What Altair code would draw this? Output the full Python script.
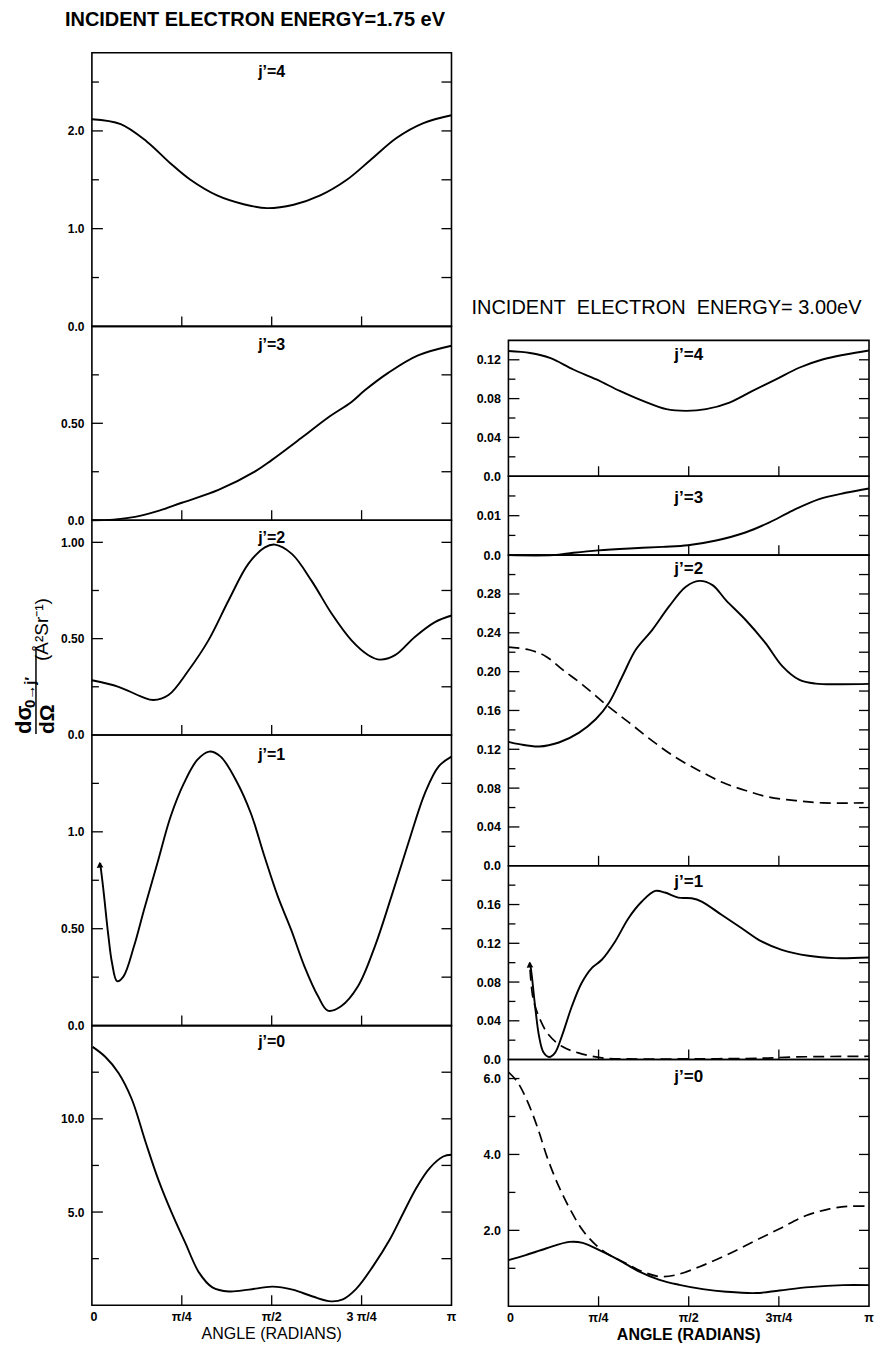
import altair as alt
import pandas as pd

FONT = "Liberation Sans"

# ---------------- data (angle in units of pi) ----------------
LEFT_TITLE = "INCIDENT ELECTRON ENERGY=1.75 eV"
RIGHT_TITLE = "INCIDENT\u00a0\u00a0ELECTRON\u00a0\u00a0ENERGY=\u00a03.00eV"
X_TITLE = "ANGLE (RADIANS)"
X_TICKS = [0.25, 0.5, 0.75]
X_LABEL_VALS = [0, 0.25, 0.5, 0.75, 1.0]
X_LABELS_LEFT = ["0", "π/4", "π/2", "3 π/4", "π"]
X_LABELS_RIGHT = ["0", "π/4", "π/2", "3π/4", "π"]

# left column, E = 1.75 eV
L4_x = [0, 0.08, 0.153, 0.218, 0.274, 0.348, 0.422, 0.487, 0.561, 0.635, 0.709, 0.774, 0.848, 0.922, 1.0]
L4_y = [2.12, 2.07, 1.89, 1.67, 1.50, 1.34, 1.25, 1.21, 1.245, 1.34, 1.50, 1.70, 1.93, 2.08, 2.16]

L3_x = [0, 0.06, 0.12, 0.18, 0.25, 0.352, 0.454, 0.5, 0.583, 0.657, 0.722, 0.759, 0.824, 0.907, 1.0]
L3_y = [0.0, 0.003, 0.017, 0.045, 0.09, 0.156, 0.252, 0.31, 0.425, 0.53, 0.61, 0.67, 0.76, 0.85, 0.90]

L2_x = [0, 0.074, 0.139, 0.171, 0.213, 0.269, 0.324, 0.38, 0.435, 0.481, 0.509, 0.556, 0.611, 0.667, 0.722, 0.769, 0.801, 0.843, 0.898, 0.954, 1.0]
L2_y = [0.284, 0.25, 0.198, 0.181, 0.207, 0.336, 0.491, 0.698, 0.888, 0.974, 0.988, 0.94, 0.80, 0.629, 0.491, 0.414, 0.391, 0.414, 0.509, 0.586, 0.62]

L1_x = [0.023, 0.032, 0.046, 0.056, 0.07, 0.088, 0.117, 0.145, 0.182, 0.219, 0.256, 0.293, 0.326, 0.358, 0.405, 0.442, 0.48, 0.517, 0.554, 0.591, 0.629, 0.656, 0.693, 0.74, 0.787, 0.833, 0.88, 0.926, 0.964, 1.0]
L1_y = [0.84, 0.70, 0.46, 0.323, 0.229, 0.254, 0.409, 0.598, 0.838, 1.079, 1.251, 1.371, 1.414, 1.388, 1.251, 1.096, 0.873, 0.667, 0.495, 0.306, 0.151, 0.077, 0.10, 0.203, 0.409, 0.667, 0.942, 1.199, 1.337, 1.388]
L1_arrow_x = [0.022]
L1_arrow_y = [0.83]

L0_x = [0.002, 0.037, 0.074, 0.111, 0.149, 0.186, 0.223, 0.26, 0.298, 0.335, 0.381, 0.437, 0.502, 0.558, 0.614, 0.665, 0.698, 0.735, 0.782, 0.828, 0.865, 0.903, 0.94, 0.977, 1.0]
L0_y = [13.86, 13.33, 12.46, 11.05, 8.77, 6.67, 4.91, 3.33, 1.75, 0.96, 0.74, 0.84, 1.0, 0.84, 0.47, 0.21, 0.32, 0.88, 2.1, 3.51, 4.91, 6.32, 7.37, 7.98, 8.07]

# right column, E = 3.00 eV
R4_x = [0, 0.06, 0.115, 0.18, 0.244, 0.309, 0.373, 0.438, 0.493, 0.548, 0.613, 0.677, 0.742, 0.806, 0.871, 0.935, 1.0]
R4_y = [0.129, 0.127, 0.122, 0.110, 0.0998, 0.0879, 0.0776, 0.0691, 0.0674, 0.0691, 0.0759, 0.0879, 0.0998, 0.1118, 0.1203, 0.1255, 0.1296]

R3_x = [0, 0.124, 0.18, 0.249, 0.336, 0.428, 0.498, 0.576, 0.659, 0.724, 0.788, 0.862, 0.935, 1.0]
R3_y = [0, 0, 0.0006, 0.0012, 0.0017, 0.0021, 0.0025, 0.0037, 0.0058, 0.0083, 0.0113, 0.0142, 0.0158, 0.0169]

R2_solid_x = [0, 0.03, 0.085, 0.14, 0.196, 0.242, 0.279, 0.316, 0.353, 0.399, 0.445, 0.492, 0.529, 0.566, 0.603, 0.658, 0.713, 0.76, 0.806, 0.852, 0.917, 1.0]
R2_solid_y = [0.1277, 0.1253, 0.1229, 0.127, 0.1372, 0.1509, 0.1679, 0.1952, 0.2225, 0.243, 0.2669, 0.2874, 0.2935, 0.2891, 0.2737, 0.2532, 0.2294, 0.2055, 0.1918, 0.1877, 0.187, 0.1874]
R2_dash_x = [0, 0.057, 0.104, 0.15, 0.205, 0.27, 0.335, 0.399, 0.464, 0.529, 0.593, 0.658, 0.723, 0.797, 0.871, 0.985]
R2_dash_y = [0.2253, 0.2225, 0.2157, 0.202, 0.1867, 0.1662, 0.1474, 0.1287, 0.1116, 0.098, 0.086, 0.0775, 0.0707, 0.0672, 0.0648, 0.0648]

R1_solid_x = [0.06, 0.065, 0.074, 0.085, 0.097, 0.113, 0.129, 0.148, 0.176, 0.203, 0.231, 0.259, 0.296, 0.333, 0.37, 0.407, 0.434, 0.471, 0.508, 0.536, 0.591, 0.647, 0.702, 0.758, 0.832, 0.906, 1.0]
R1_solid_y = [0.100, 0.086, 0.055, 0.024, 0.0076, 0.0027, 0.0069, 0.024, 0.055, 0.079, 0.0944, 0.103, 0.1219, 0.1459, 0.1631, 0.1741, 0.1724, 0.1672, 0.1665, 0.1631, 0.1494, 0.1356, 0.1219, 0.1133, 0.1071, 0.1047, 0.1054]
R1_dash_x = [0.06, 0.069, 0.088, 0.111, 0.148, 0.194, 0.259, 0.333, 0.518, 0.702, 0.795, 1.0]
R1_dash_y = [0.0927, 0.0618, 0.0412, 0.0258, 0.0137, 0.0069, 0.0017, 0.0007, 0.0007, 0.0014, 0.0027, 0.0034]
R1_arrow_x = [0.059]
R1_arrow_y = [0.098]

R0_solid_x = [0, 0.048, 0.104, 0.169, 0.206, 0.252, 0.307, 0.363, 0.419, 0.474, 0.539, 0.604, 0.687, 0.752, 0.835, 0.928, 1.0]
R0_solid_y = [1.217, 1.348, 1.522, 1.696, 1.67, 1.478, 1.217, 0.913, 0.696, 0.565, 0.452, 0.383, 0.348, 0.417, 0.504, 0.557, 0.557]
R0_dash_x = [0, 0.025, 0.053, 0.081, 0.108, 0.141, 0.173, 0.206, 0.243, 0.28, 0.326, 0.372, 0.419, 0.465, 0.53, 0.604, 0.678, 0.752, 0.826, 0.891, 0.946, 1.0]
R0_dash_y = [6.17, 5.91, 5.39, 4.70, 3.91, 3.13, 2.52, 2.0, 1.61, 1.35, 1.13, 0.913, 0.783, 0.826, 1.043, 1.348, 1.696, 2.043, 2.39, 2.565, 2.635, 2.635]

# y-axis tick values / labels
L4_lab_v, L4_lab_t, L4_major, L4_minor = [0, 1, 2], ["0.0", "1.0", "2.0"], [1, 2], [0.5, 1.5, 2.5]
L3_lab_v, L3_lab_t, L3_major, L3_minor = [0, 0.5], ["0.0", "0.50"], [0.5], [0.25, 0.75]
L2_lab_v, L2_lab_t, L2_major, L2_minor = [0, 0.5, 1.0], ["0.0", "0.50", "1.00"], [0.5, 1.0], [0.25, 0.75]
L1_lab_v, L1_lab_t, L1_major, L1_minor = [0, 0.5, 1.0], ["0.0", "0.50", "1.0"], [0.5, 1.0], [0.25, 0.75, 1.25]
L0_lab_v, L0_lab_t, L0_major, L0_minor = [5, 10], ["5.0", "10.0"], [5, 10], [2.5, 7.5, 12.5]

R4_lab_v, R4_lab_t, R4_major, R4_minor = [0, 0.04, 0.08, 0.12], ["0.0", "0.04", "0.08", "0.12"], [0.04, 0.08, 0.12], [0.02, 0.06, 0.10]
R3_lab_v, R3_lab_t, R3_major, R3_minor = [0, 0.01], ["0.0", "0.01"], [0.01], [0.005, 0.015]
R2_lab_v = [0, 0.04, 0.08, 0.12, 0.16, 0.20, 0.24, 0.28]
R2_lab_t = ["0.0", "0.04", "0.08", "0.12", "0.16", "0.20", "0.24", "0.28"]
R2_major, R2_minor = [0.04, 0.08, 0.12, 0.16, 0.20, 0.24, 0.28], [0.02, 0.06, 0.10, 0.14, 0.18, 0.22, 0.26, 0.30]
R1_lab_v = [0, 0.04, 0.08, 0.12, 0.16]
R1_lab_t = ["0.0", "0.04", "0.08", "0.12", "0.16"]
R1_major, R1_minor = [0.04, 0.08, 0.12, 0.16], [0.02, 0.06, 0.10, 0.14, 0.18]
R0_lab_v, R0_lab_t, R0_major, R0_minor = [2, 4, 6], ["2.0", "4.0", "6.0"], [2, 4, 6], [1, 3, 5]

WL, WR = 360, 361


def lab_expr(vals, txts):
    expr = "''"
    for v, t in reversed(list(zip(vals, txts))):
        expr = f"datum.value == {v} ? '{t}' : ({expr})"
    return expr


def txt(s, x, y, size, weight="bold", angle=0, align="left", font=FONT):
    return (alt.Chart(pd.DataFrame({"t": [s]}))
            .mark_text(font=font, fontSize=size, fontWeight=weight, color="black",
                       angle=angle, align=align, baseline="middle")
            .encode(text="t:N", x=alt.value(x), y=alt.value(y)))


def panel(series, ydom, lab_v, lab_t, major, minor, w, h, jlabel, jdy,
          xlabels=None, xtitle_bold=False, arrow=None, extra=None, lab_size=12, jsize=16):
    xs = alt.Scale(domain=[0, 1], nice=False, zero=False)
    ys = alt.Scale(domain=ydom, nice=False, zero=True)
    yaxis = alt.Axis(values=lab_v, labelExpr=lab_expr(lab_v, lab_t), ticks=False, tickSize=0,
                     domain=False, grid=False, labelPadding=8, labelFont=FONT,
                     labelFontSize=lab_size, labelFontWeight="bold", labelColor="black",
                     labelFlush=False, labelOverlap=False, labelBound=False, title=None)
    X = alt.X("x:Q", scale=xs, axis=None)
    Y = alt.Y("y:Q", scale=ys, axis=yaxis)
    layers = []
    for sx, sy, dashed in series:
        df = pd.DataFrame({"x": sx, "y": sy})
        if dashed:
            mk = alt.Chart(df).mark_line(color="black", strokeWidth=1.7, interpolate="catmull-rom",
                                         strokeDash=[11, 6])
        else:
            mk = alt.Chart(df).mark_line(color="black", strokeWidth=1.9, interpolate="catmull-rom")
        layers.append(mk.encode(x=X, y=Y))
    tick_style = dict(color="black", strokeWidth=1.3)
    layers.append(alt.Chart(pd.DataFrame({"y": major})).mark_rule(**tick_style)
                  .encode(y=Y, x=alt.value(0), x2=alt.value(11)))
    layers.append(alt.Chart(pd.DataFrame({"y": minor})).mark_rule(**tick_style)
                  .encode(y=Y, x=alt.value(0), x2=alt.value(7)))
    layers.append(alt.Chart(pd.DataFrame({"y": major + minor})).mark_rule(**tick_style)
                  .encode(y=Y, x=alt.value(w), x2=alt.value(w - 10)))
    layers.append(alt.Chart(pd.DataFrame({"x": X_TICKS})).mark_rule(**tick_style)
                  .encode(x=X, y=alt.value(h), y2=alt.value(h - 10)))
    layers.append(alt.Chart(pd.DataFrame({"x": [0.5], "t": [jlabel]}))
                  .mark_text(font=FONT, fontSize=jsize, fontWeight="bold", color="black",
                             baseline="middle")
                  .encode(x=X, y=alt.value(jdy), text="t:N"))
    if arrow is not None:
        layers.append(alt.Chart(pd.DataFrame({"x": arrow[0], "y": arrow[1]}))
                      .mark_point(shape="triangle-up", filled=True, color="black",
                                  size=45, opacity=1, angle=354)
                      .encode(x=X, y=Y))
    if xlabels is not None:
        # x tick labels under the bottom panel, one text mark per label through the x scale
        for i, (v, t) in enumerate(zip(X_LABEL_VALS, xlabels)):
            layers.append(alt.Chart(pd.DataFrame({"x": [v], "lab": [t]}))
                          .mark_text(font=FONT, fontSize=12.5, fontWeight="bold", color="black",
                                     baseline="middle", align="center", dx=2 if i == 0 else 0)
                          .encode(x=X, y=alt.value(h + 12), text="lab:N"))
        layers.append(txt(X_TITLE, w / 2, h + 29, 16,
                          weight="bold" if xtitle_bold else "normal", align="center"))
    if extra:
        layers.extend(extra)
    return alt.layer(*layers).properties(width=w, height=h)


# y-axis title (fraction), drawn in left j'=2 panel coordinates (panel top = page y 520)
ytitle = [
    txt("dσ", -68, 214, 22, angle=270),
    txt("0→j′", -62, 188, 15, angle=270),
    alt.Chart(pd.DataFrame({"a": [0]})).mark_rule(color="black", strokeWidth=1.5)
    .encode(x=alt.value(-56), x2=alt.value(-56), y=alt.value(130), y2=alt.value(214)),
    txt("dΩ", -44, 214, 21, angle=270),
    txt("(Å²Sr⁻¹)", -50, 141, 19, weight="normal", angle=270),
]

# ---------------- left column ----------------
left_head = alt.layer(
    txt(LEFT_TITLE, -27, 11, 20),
    alt.Chart(pd.DataFrame({"a": [0]})).mark_rule(strokeOpacity=0, strokeWidth=1)
    .encode(x=alt.value(-84), x2=alt.value(-84), y=alt.value(0), y2=alt.value(5)),
).properties(width=WL, height=44, view=alt.ViewBackground(stroke=None, fill="white"))

pL4 = panel([(L4_x, L4_y, False)], [0, 2.8], L4_lab_v, L4_lab_t, L4_major, L4_minor, WL, 274, "j’=4", 19)
pL3 = panel([(L3_x, L3_y, False)], [0, 1.0], L3_lab_v, L3_lab_t, L3_major, L3_minor, WL, 194, "j’=3", 19)
pL2 = panel([(L2_x, L2_y, False)], [0, 1.115], L2_lab_v, L2_lab_t, L2_major, L2_minor, WL, 215, "j’=2", 18,
            extra=ytitle)
pL1 = panel([(L1_x, L1_y, False)], [0, 1.5], L1_lab_v, L1_lab_t, L1_major, L1_minor, WL, 291, "j’=1", 20,
            arrow=(L1_arrow_x, L1_arrow_y))
pL0 = panel([(L0_x, L0_y, False)], [0, 15], L0_lab_v, L0_lab_t, L0_major, L0_minor, WL, 280, "j’=0", 16,
            xlabels=X_LABELS_LEFT)

left_col = alt.vconcat(left_head, pL4, pL3, pL2, pL1, pL0, spacing=0, bounds="flush")

# ---------------- right column ----------------
right_head = alt.layer(
    txt(RIGHT_TITLE, -37, 300, 20, weight="normal"),
).properties(width=WR, height=332, view=alt.ViewBackground(stroke=None, fill="white"))

pR4 = panel([(R4_x, R4_y, False)], [0, 0.14], R4_lab_v, R4_lab_t, R4_major, R4_minor, WR, 136, "j’=4", 15,
            lab_size=12.5, jsize=17)
pR3 = panel([(R3_x, R3_y, False)], [0, 0.02], R3_lab_v, R3_lab_t, R3_major, R3_minor, WR, 79, "j’=3", 22,
            lab_size=12.5, jsize=17)
pR2 = panel([(R2_solid_x, R2_solid_y, False), (R2_dash_x, R2_dash_y, True)], [0, 0.32],
            R2_lab_v, R2_lab_t, R2_major, R2_minor, WR, 311, "j’=2", 14, lab_size=12.5, jsize=17)
pR1 = panel([(R1_solid_x, R1_solid_y, False), (R1_dash_x, R1_dash_y, True)], [0, 0.2],
            R1_lab_v, R1_lab_t, R1_major, R1_minor, WR, 194, "j’=1", 16, lab_size=12.5, jsize=17,
            arrow=(R1_arrow_x, R1_arrow_y))
pR0 = panel([(R0_solid_x, R0_solid_y, False), (R0_dash_x, R0_dash_y, True)], [0, 6.5],
            R0_lab_v, R0_lab_t, R0_major, R0_minor, WR, 247, "j’=0", 17, lab_size=12.5, jsize=17,
            xlabels=X_LABELS_RIGHT, xtitle_bold=True)

right_col = alt.vconcat(right_head, pR4, pR3, pR2, pR1, pR0, spacing=0, bounds="flush")

chart = (alt.hconcat(left_col, right_col, spacing=14)
         .properties(padding={"left": 0, "top": 0, "right": 0, "bottom": 0}, background="white")
         .configure(font=FONT)
         .configure_view(stroke="black", strokeWidth=1.6))

chart.save("out.html", embed_options={"renderer": "svg", "actions": False})
